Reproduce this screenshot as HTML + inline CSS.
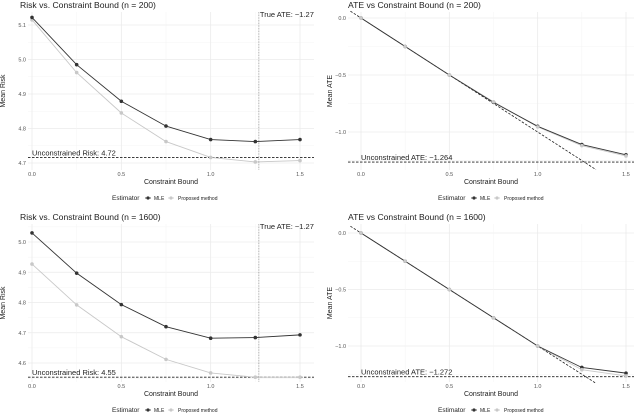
<!DOCTYPE html>
<html><head><meta charset="utf-8"><style>
body{margin:0;background:#fff}
svg{display:block;font-family:"Liberation Sans",sans-serif}
</style></head><body>
<svg id="c" width="640" height="418"></svg>
<script>
const xs=[0,0.25,0.5,0.75,1.0,1.25,1.5];
const mle1=[5.122,4.985,4.879,4.807,4.768,4.762,4.768];
const prop1=[5.115,4.962,4.845,4.762,4.716,4.703,4.707];
const mle2=[0,-0.25,-0.5,-0.74,-0.95,-1.11,-1.20];
const prop2=[0,-0.25,-0.5,-0.735,-0.955,-1.12,-1.21];
const mle3=[5.03,4.897,4.793,4.72,4.682,4.684,4.693];
const prop3=[4.927,4.792,4.687,4.612,4.567,4.553,4.553];
const mle4=[0,-0.25,-0.5,-0.75,-1.0,-1.19,-1.24];
const prop4=[0,-0.25,-0.5,-0.75,-1.0,-1.21,-1.265];
const xTicks=[0,0.5,1.0,1.5];
const riskTicks1=[4.7,4.8,4.9,5.0,5.1];
const riskTicks3=[4.6,4.7,4.8,4.9,5.0];
const ateTicks=[0,-0.5,-1.0];
const hlines=[4.716,-1.264,4.553,-1.272];
const hlabels=["Unconstrained Risk: 4.72","Unconstrained ATE: \u22121.264","Unconstrained Risk: 4.55","Unconstrained ATE: \u22121.272"];
const trueATE=1.27;
const svg=document.getElementById('c');
const NS='http://www.w3.org/2000/svg';
function mk(t,a,p){const e=document.createElementNS(NS,t);for(const k in a)e.setAttribute(k,a[k]);(p||svg).appendChild(e);return e;}
function fmt(v){return (v<0?'\u2212':'')+Math.abs(v).toFixed(1);}
const panels=[
 {ox:0,oy:0,title:"Risk vs. Constraint Bound (n = 200)",yt:"Mean Risk",mle:mle1,prop:prop1,ticks:riskTicks1,v0:5.1,p0:25,v1:4.7,p1:163,l:28,r:314,t:12,b:170,risk:true,h:0},
 {ox:320,oy:0,title:"ATE vs Constraint Bound (n = 200)",yt:"Mean ATE",mle:mle2,prop:prop2,ticks:ateTicks,v0:0,p0:18,v1:-1,p1:132,l:28,r:314,t:12,b:170,risk:false,h:1},
 {ox:0,oy:210,title:"Risk vs. Constraint Bound (n = 1600)",yt:"Mean Risk",mle:mle3,prop:prop3,ticks:riskTicks3,v0:5.0,p0:32,v1:4.6,p1:153,l:28,r:314,t:14,b:172,risk:true,h:2},
 {ox:320,oy:210,title:"ATE vs Constraint Bound (n = 1600)",yt:"Mean ATE",mle:mle4,prop:prop4,ticks:ateTicks,v0:0,p0:23,v1:-1,p1:136,l:28,r:314,t:14,b:172,risk:false,h:3}
];
panels.forEach((P,i)=>{
 const g=mk('g',{transform:`translate(${P.ox},${P.oy})`});
 
 
 const x0=P.risk?32:41, x1=P.risk?300:306;
 const X=v=>x0+(v-0)*(x1-x0)/1.5;
 const Y=v=>P.p0+(v-P.v0)*(P.p1-P.p0)/(P.v1-P.v0);
 const step=P.risk?0.1:0.5;
 for(let k=0;k<P.ticks.length;k++){const v=P.ticks[k];mk('line',{x1:P.l,x2:P.r,y1:Y(v),y2:Y(v),stroke:'#ebebeb','stroke-width':0.8},g);
  const m=v-step/2; if(Y(m)>P.t&&Y(m)<P.b) mk('line',{x1:P.l,x2:P.r,y1:Y(m),y2:Y(m),stroke:'#f4f4f4','stroke-width':0.5},g);}
 if(!P.risk){const m=P.ticks[P.ticks.length-1]-0.25;if(Y(m)<P.b)mk('line',{x1:P.l,x2:P.r,y1:Y(m),y2:Y(m),stroke:'#f4f4f4','stroke-width':0.5},g);}
 if(P.risk){const m=P.ticks[P.ticks.length-1]+0.05;if(Y(m)>P.t)mk('line',{x1:P.l,x2:P.r,y1:Y(m),y2:Y(m),stroke:'#f4f4f4','stroke-width':0.5},g);}
 xTicks.forEach(v=>{mk('line',{x1:X(v),x2:X(v),y1:P.t,y2:P.b,stroke:'#ebebeb','stroke-width':0.8},g);
  if(v<1.5)mk('line',{x1:X(v+0.25),x2:X(v+0.25),y1:P.t,y2:P.b,stroke:'#f4f4f4','stroke-width':0.5},g);
  const t=mk('text',{x:X(v),y:P.b+6,'font-size':5.5,fill:'#555','text-anchor':'middle'},g);t.textContent=v.toFixed(1);
  });
 P.ticks.forEach(v=>{const t=mk('text',{x:P.l-2,y:Y(v)+2,'font-size':5.5,fill:'#555','text-anchor':'end'},g);t.textContent=P.risk?v.toFixed(1):fmt(v);
  });
 const hy=Y(hlines[P.h]);
 const hl=mk('line',{x1:P.l,x2:P.r,y1:hy,y2:hy,stroke:'#222','stroke-width':0.9,'stroke-dasharray':'2.5,1.5'},g);
 
 const ht=mk('text',{x:X(0),y:hy-2,'font-size':7.5,fill:'#222'},g);ht.textContent=hlabels[P.h];
 
 if(P.risk){const vl=mk('line',{x1:X(trueATE),x2:X(trueATE),y1:P.t,y2:P.b,stroke:'#444','stroke-width':0.5,'stroke-dasharray':'0.8,0.8'},g);
  
  const vt=mk('text',{x:X(trueATE)+1,y:P.t+5,'font-size':7.5,fill:'#222'},g);vt.textContent='True ATE: \u22121.27';
  }
 else{const d=mk('line',{x1:X(-0.06),y1:Y(0.06),x2:X(1.33),y2:Y(-1.33),stroke:'#222','stroke-width':0.8,'stroke-dasharray':'2.5,1.5'},g);
  }
 function line(arr,col,nm){const pl=mk('polyline',{points:arr.map((v,j)=>X(xs[j])+','+Y(v)).join(' '),fill:'none',stroke:col,'stroke-width':0.9},g);
  }
 function pts(arr,col,nm){arr.forEach((v,j)=>{const c=mk('circle',{cx:X(xs[j]),cy:Y(v),r:1.8,fill:col},g);
   });}
 if(P.risk){line(P.prop,'#c8c8c8','proposed');pts(P.prop,'#c8c8c8','proposed');line(P.mle,'#333','mle');pts(P.mle,'#333','mle');}
 else{line(P.prop,'#c8c8c8','proposed');line(P.mle,'#333','mle');pts(P.mle,'#333','mle');pts(P.prop,'#c8c8c8','proposed');}
 const tt=mk('text',{x:P.risk?20:28,y:P.t-4,'font-size':8.6,fill:'#222'},g);tt.textContent=P.title;
 
 const xt=mk('text',{x:(P.l+P.r)/2,y:P.b+14,'font-size':7,fill:'#222','text-anchor':'middle'},g);xt.textContent='Constraint Bound';
 
 const yc=(P.t+P.b)/2, yx=P.risk?5:12;
 const yt=mk('text',{x:yx,y:yc,'font-size':7,fill:'#222','text-anchor':'middle',transform:`rotate(-90 ${yx} ${yc})`},g);yt.textContent=P.yt;
 
 const lx=P.risk?112:118, ly=P.b+30;
 const lg=mk('g',{},g);
 const e=mk('text',{x:lx,y:ly,'font-size':6.5,fill:'#222'},lg);e.textContent='Estimator';
 mk('line',{x1:lx+33,x2:lx+39,y1:ly-2,y2:ly-2,stroke:'#333','stroke-width':0.8},lg);
 mk('circle',{cx:lx+36,cy:ly-2,r:1.6,fill:'#333'},lg);
 const a=mk('text',{x:lx+42,y:ly,'font-size':5,fill:'#222'},lg);a.textContent='MLE';
 mk('line',{x1:lx+56,x2:lx+62,y1:ly-2,y2:ly-2,stroke:'#c8c8c8','stroke-width':0.8},lg);
 mk('circle',{cx:lx+59,cy:ly-2,r:1.6,fill:'#c8c8c8'},lg);
 const b=mk('text',{x:lx+66,y:ly,'font-size':5,fill:'#222'},lg);b.textContent='Proposed method';
});
</script>
</body></html>
